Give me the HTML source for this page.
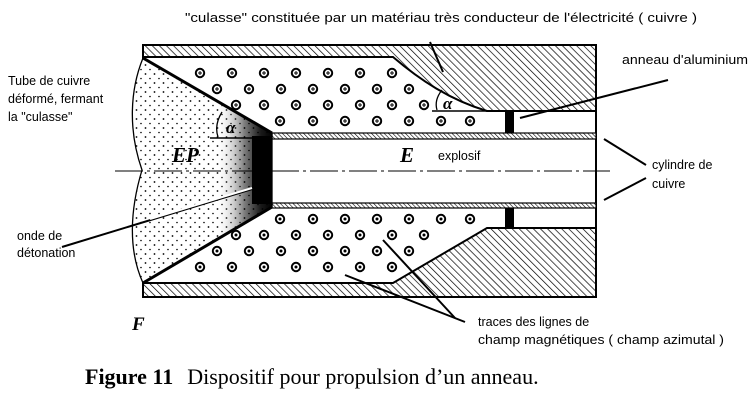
<!DOCTYPE html>
<html><head><meta charset="utf-8"><style>
html,body{margin:0;padding:0;background:#fff;}
svg{display:block}
.l{font-family:"Liberation Sans",sans-serif;font-size:12.5px;fill:#000}
.s{font-family:"Liberation Serif",serif;font-style:italic;font-weight:bold;fill:#000}
</style></head><body>
<svg width="756" height="402" viewBox="0 0 756 402" xmlns="http://www.w3.org/2000/svg">
<defs>
<pattern id="h" width="5" height="5" patternUnits="userSpaceOnUse" patternTransform="rotate(-45)">
<rect width="5" height="5" fill="#fff"/><line x1="0" y1="0" x2="0" y2="5" stroke="#000" stroke-width="1.4"/></pattern>
<pattern id="hf" width="3" height="3" patternUnits="userSpaceOnUse" patternTransform="rotate(-45)">
<rect width="3" height="3" fill="#fff"/><line x1="0" y1="0" x2="0" y2="3" stroke="#000" stroke-width="1.2"/></pattern>
<pattern id="dots" width="9" height="9" patternUnits="userSpaceOnUse">
<rect width="9" height="9" fill="none"/><circle cx="1.5" cy="2" r="0.9" fill="#000"/><circle cx="6" cy="6.5" r="0.8" fill="#000"/></pattern>
<linearGradient id="g" x1="0" x2="1" y1="0" y2="0">
<stop offset="0" stop-color="#fff" stop-opacity="0"/><stop offset="0.6" stop-color="#fff" stop-opacity="0"/><stop offset="0.8" stop-color="#000" stop-opacity="0.5"/><stop offset="0.92" stop-color="#000" stop-opacity="0.9"/><stop offset="1" stop-color="#000"/></linearGradient>
<g id="p"><circle r="4.2" fill="#fff" stroke="#000" stroke-width="2"/><path d="M-2 0H2M0 -2V2" stroke="#000" stroke-width="1"/></g>
<g id="d"><circle r="4.2" fill="#fff" stroke="#000" stroke-width="2"/><circle r="1.5" fill="#000"/></g>
</defs>
<rect x="143" y="45" width="453" height="252" fill="#fff" stroke="#000" stroke-width="2"/>
<path d="M143 45H596V111H487C450 100 420 80 393 57H143Z" fill="url(#h)" stroke="#000" stroke-width="2"/>
<path d="M143 297H596V228H487L393 283H143Z" fill="url(#h)" stroke="#000" stroke-width="2"/>
<rect x="272" y="133" width="324" height="6" fill="url(#hf)" stroke="#000" stroke-width="1.2"/>
<rect x="272" y="203" width="324" height="5" fill="url(#hf)" stroke="#000" stroke-width="1.2"/>
<rect x="505" y="111" width="9" height="22" fill="#000"/>
<rect x="505" y="208" width="9" height="20" fill="#000"/>
<path d="M143 58C130 90 128 130 142 170C130 210 128 250 143 283L272 207V133Z" fill="#fff"/>
<path d="M143 58C130 90 128 130 142 170C130 210 128 250 143 283L272 207V133Z" fill="url(#dots)"/>
<path d="M143 58C130 90 128 130 142 170C130 210 128 250 143 283L272 207V133Z" fill="url(#g)" stroke="#000" stroke-width="1.3"/>
<rect x="252" y="136" width="20" height="68" fill="#000"/>
<line x1="143" y1="58" x2="272" y2="133" stroke="#000" stroke-width="3"/>
<line x1="143" y1="283" x2="272" y2="207" stroke="#000" stroke-width="3"/>
<line x1="115" y1="171" x2="610" y2="171" stroke="#000" stroke-width="1" stroke-dasharray="28 4 3 4"/>
<g>
<use href="#p" x="200" y="73"/><use href="#p" x="232" y="73"/><use href="#p" x="264" y="73"/><use href="#p" x="296" y="73"/><use href="#p" x="328" y="73"/><use href="#p" x="360" y="73"/><use href="#p" x="392" y="73"/>
<use href="#p" x="217" y="89"/><use href="#p" x="249" y="89"/><use href="#p" x="281" y="89"/><use href="#p" x="313" y="89"/><use href="#p" x="345" y="89"/><use href="#p" x="377" y="89"/><use href="#p" x="409" y="89"/>
<use href="#p" x="236" y="105"/><use href="#p" x="264" y="105"/><use href="#p" x="296" y="105"/><use href="#p" x="328" y="105"/><use href="#p" x="360" y="105"/><use href="#p" x="392" y="105"/><use href="#p" x="424" y="105"/>
<use href="#p" x="280" y="121"/><use href="#p" x="313" y="121"/><use href="#p" x="345" y="121"/><use href="#p" x="377" y="121"/><use href="#p" x="409" y="121"/><use href="#p" x="441" y="121"/><use href="#p" x="470" y="121"/>
</g>
<g>
<use href="#d" x="280" y="219"/><use href="#d" x="313" y="219"/><use href="#d" x="345" y="219"/><use href="#d" x="377" y="219"/><use href="#d" x="409" y="219"/><use href="#d" x="441" y="219"/><use href="#d" x="470" y="219"/>
<use href="#d" x="236" y="235"/><use href="#d" x="264" y="235"/><use href="#d" x="296" y="235"/><use href="#d" x="328" y="235"/><use href="#d" x="360" y="235"/><use href="#d" x="392" y="235"/><use href="#d" x="424" y="235"/>
<use href="#d" x="217" y="251"/><use href="#d" x="249" y="251"/><use href="#d" x="281" y="251"/><use href="#d" x="313" y="251"/><use href="#d" x="345" y="251"/><use href="#d" x="377" y="251"/><use href="#d" x="409" y="251"/>
<use href="#d" x="200" y="267"/><use href="#d" x="232" y="267"/><use href="#d" x="264" y="267"/><use href="#d" x="296" y="267"/><use href="#d" x="328" y="267"/><use href="#d" x="360" y="267"/><use href="#d" x="392" y="267"/>
</g>
<line x1="210" y1="138" x2="255" y2="138" stroke="#000" stroke-width="1.5"/>
<path d="M218 137Q214 125 222 112" fill="none" stroke="#000" stroke-width="1.3"/>
<text x="226" y="133" class="s" font-size="17" font-weight="normal">α</text>
<line x1="432" y1="111" x2="487" y2="111" stroke="#000" stroke-width="1.5"/>
<path d="M437 110Q434 100 442 90" fill="none" stroke="#000" stroke-width="1.3"/>
<text x="443" y="109" class="s" font-size="17" font-weight="normal">α</text>
<text x="172" y="162" class="s" font-size="21">EP</text>
<text x="400" y="162" class="s" font-size="21">E</text>
<text x="438" y="160" class="l" font-size="12">explosif</text>
<text x="132" y="330" class="s" font-size="19">F</text>
<g stroke="#000" stroke-width="2" fill="none">
<line x1="430" y1="42" x2="443" y2="72"/>
<line x1="668" y1="80" x2="520" y2="118"/>
<line x1="604" y1="139" x2="646" y2="165"/>
<line x1="604" y1="200" x2="646" y2="178"/>
<line x1="62" y1="247" x2="272" y2="183"/>
<line x1="465" y1="322" x2="345" y2="275"/>
<line x1="455" y1="318" x2="383" y2="240"/>
</g>
<line x1="150" y1="219" x2="252" y2="188" stroke="#fff" stroke-width="2"/>
<text x="185" y="22" class="l" textLength="512" lengthAdjust="spacingAndGlyphs">"culasse" constituée par un matériau très conducteur de l'électricité ( cuivre )</text>
<text x="622" y="64" class="l" textLength="126" lengthAdjust="spacingAndGlyphs">anneau d'aluminium</text>
<text x="8" y="85" class="l">Tube de cuivre</text>
<text x="8" y="103" class="l">déformé, fermant</text>
<text x="8" y="121" class="l">la "culasse"</text>
<text x="652" y="169" class="l">cylindre de</text>
<text x="652" y="188" class="l">cuivre</text>
<text x="17" y="240" class="l">onde de</text>
<text x="17" y="257" class="l">détonation</text>
<text x="478" y="326" class="l">traces des lignes de</text>
<text x="478" y="344" class="l" textLength="246" lengthAdjust="spacingAndGlyphs">champ magnétiques ( champ azimutal )</text>
<text x="85" y="384" font-family="Liberation Serif,serif" font-size="22" fill="#000"><tspan font-weight="bold">Figure 11</tspan><tspan dx="14">Dispositif pour propulsion d’un anneau.</tspan></text>
</svg>
</body></html>
